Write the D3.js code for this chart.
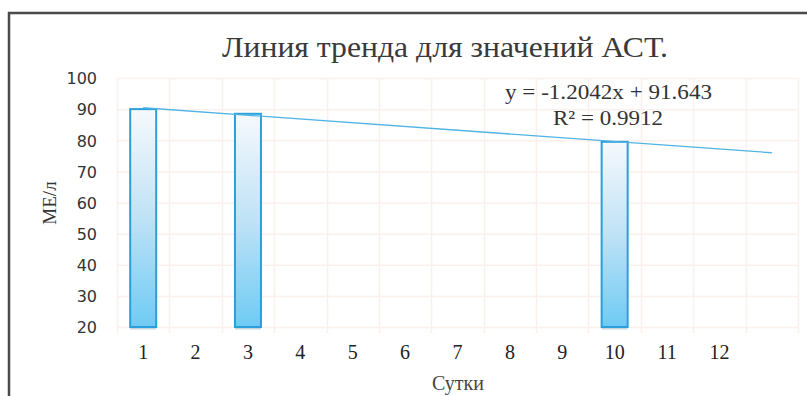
<!DOCTYPE html>
<html><head><meta charset="utf-8">
<script src="https://cdn.jsdelivr.net/npm/d3@7"></script>
<style>html,body{margin:0;padding:0;background:#fff;}svg{display:block;}</style>
</head><body>
<svg id="chart" width="807" height="396"></svg>
<script>
const categories = ["1","2","3","4","5","6","7","8","9","10","11","12",""];
const barDays = [1, 3, 10];
const barValues = [90, 88.5, 79.5];
const yTicks = [20,30,40,50,60,70,80,90,100];
const trendDays = [1, 13];
const trendValues = [90.44, 75.99];
const titleText = "Линия тренда для значений АСТ.";
const eqText = "y = -1.2042x + 91.643";
const r2Text = "R² = 0.9912";
const xTitle = "Сутки";
const yTitle = "МЕ/л";

const svg = d3.select("#chart");
const W = 807, H = 396;
const m = {left:117, right:9, top:78, bottom:69};
const x = d3.scaleBand().domain(categories.map((c,i)=>i+1)).range([m.left, W-m.right]).paddingInner(0).paddingOuter(0);
const y = d3.scaleLinear().domain([20,100]).range([H-m.bottom, m.top]);
const cx = d => x(d) + x.bandwidth()/2;

// border
svg.append("path").attr("d", `M9,${H} L9,13 L${W},13`).attr("fill","none").attr("stroke","#4a4a4a").attr("stroke-width",2.5);

// gradient
const defs = svg.append("defs");
const g = defs.append("linearGradient").attr("id","barGrad").attr("x1",0).attr("y1",0).attr("x2",0).attr("y2",1);
g.append("stop").attr("offset","0%").attr("stop-color","#f6f9fd");
g.append("stop").attr("offset","50%").attr("stop-color","#bfe2f6");
g.append("stop").attr("offset","100%").attr("stop-color","#6ecbf4");

// gridlines
const grid = svg.append("g");
grid.selectAll("line.h").data(yTicks).join("line")
  .attr("x1", m.left).attr("x2", W-m.right)
  .attr("y1", d=>y(d)+0.5).attr("y2", d=>y(d)+0.5)
  .attr("stroke","#fbf0ec").attr("stroke-width",1.5);
const bounds = d3.range(categories.length+1).map(i => m.left + i*x.bandwidth());
grid.selectAll("line.v").data(bounds).join("line")
  .attr("x1", d=>Math.round(d)+0.5).attr("x2", d=>Math.round(d)+0.5)
  .attr("y1", m.top).attr("y2", y(20)+6)
  .attr("stroke","#fbf0ec").attr("stroke-width",1.5);

// y axis labels
const yAxis = d3.axisLeft(y).tickValues(yTicks).tickSize(0).tickPadding(0);
const ya = svg.append("g").attr("transform",`translate(97,0)`).call(yAxis);
ya.select(".domain").remove();
ya.selectAll("text").attr("font-family","DejaVu Sans, Verdana, sans-serif").attr("font-size",16).attr("fill","#333").attr("dy","0.36em");

// x axis labels
const xAxis = d3.axisBottom(x).tickFormat(d=>categories[d-1]).tickSize(0).tickPadding(0);
const xa = svg.append("g").attr("transform",`translate(0,359)`).call(xAxis);
xa.select(".domain").remove();
xa.selectAll("text").attr("font-family","Liberation Serif, Times New Roman, serif").attr("font-size",20).attr("fill","#222").attr("dy",0);

// bars
const bw = 26;
const bars = svg.append("g");
barDays.forEach((d,i)=>{
  const c = cx(d);
  bars.append("line").attr("x1",c-bw/2).attr("x2",c+bw/2).attr("y1",y(20)+1.5).attr("y2",y(20)+1.5)
    .attr("stroke","#c9d6de").attr("stroke-width",2);
  bars.append("rect").attr("x",c-bw/2).attr("y",y(barValues[i])).attr("width",bw).attr("height",y(20)-y(barValues[i]))
    .attr("fill","url(#barGrad)").attr("stroke","#2b9fd9").attr("stroke-width",2);
});

// trend line
svg.append("line")
  .attr("x1", cx(trendDays[0])).attr("y1", y(trendValues[0]))
  .attr("x2", cx(trendDays[1])).attr("y2", y(trendValues[1]))
  .attr("stroke","#4fb3e3").attr("stroke-width",1.3);

// texts
svg.append("text").attr("x",222).attr("y",57).attr("font-family","Liberation Serif, Times New Roman, serif")
  .attr("font-size",29).attr("fill","#3a3a3a").attr("textLength",446).attr("lengthAdjust","spacingAndGlyphs").text(titleText);
svg.append("text").attr("x",505).attr("y",99).attr("font-family","Liberation Serif, Times New Roman, serif")
  .attr("font-size",22).attr("fill","#333").attr("textLength",207).attr("lengthAdjust","spacingAndGlyphs").text(eqText);
svg.append("text").attr("x",553).attr("y",125).attr("font-family","Liberation Serif, Times New Roman, serif")
  .attr("font-size",22).attr("fill","#333").attr("textLength",110).attr("lengthAdjust","spacingAndGlyphs").text(r2Text);
svg.append("text").attr("x",458).attr("y",390).attr("text-anchor","middle").attr("font-family","Liberation Serif, Times New Roman, serif")
  .attr("font-size",20).attr("fill","#444").text(xTitle);
svg.append("text").attr("transform","translate(56,203) rotate(-90)").attr("text-anchor","middle").attr("font-family","Liberation Serif, Times New Roman, serif")
  .attr("font-size",19).attr("fill","#333").text(yTitle);
</script>
</body></html>
